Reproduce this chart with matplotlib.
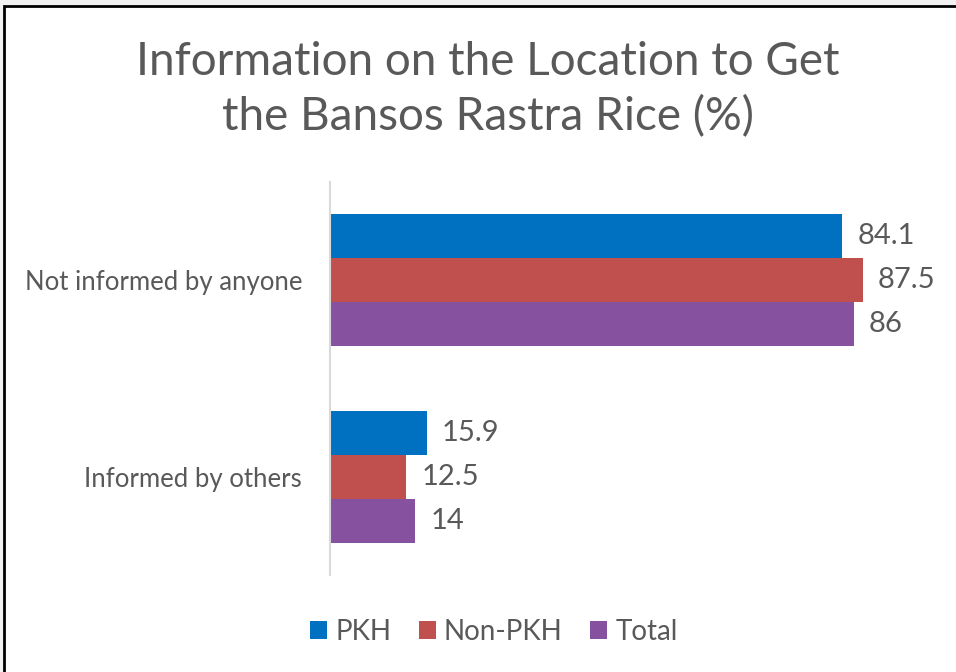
import matplotlib.pyplot as plt
from matplotlib.patches import Rectangle
import numpy as np

categories = ['Not informed by anyone', 'Informed by others']
series = ['PKH', 'Non-PKH', 'Total']
pkh = [84.1, 15.9]
non_pkh = [87.5, 12.5]
total = [86, 14]
labels_text = [['84.1', '15.9'], ['87.5', '12.5'], ['86', '14']]

colors = ['#0070C0', '#C0504D', '#8652A0']
grey = '#595959'

plt.rcParams['font.family'] = ['Lato', 'DejaVu Sans']

fig = plt.figure(figsize=(9.56, 6.72), dpi=100)
fig.patch.set_facecolor('#f2f2f2')
# white chart area with black border
border = Rectangle((4 / 956, -0.01), 1.02, 1 - 6 / 672 + 0.01,
                   transform=fig.transFigure, facecolor='white',
                   edgecolor='black', linewidth=2, zorder=-1)
fig.add_artist(border)

ax = fig.add_axes([330 / 956, (672 - 575) / 672, 609 / 956, 393 / 672])
ax.set_facecolor('none')
ax.set_zorder(2)

bar_h = 44 / 196
ypos = np.arange(len(categories))
vals = [pkh, non_pkh, total]
for i, (name, v) in enumerate(zip(series, vals)):
    y = ypos + (i - 1) * bar_h
    ax.barh(y, v, height=bar_h, color=colors[i], label=name)
    for yy, vv, t in zip(y, v, labels_text[i]):
        ax.text(vv + 2.5, yy, t, va='center', ha='left', fontsize=21, color=grey)

ax.set_xlim(0, 100)
ax.set_ylim(1.5, -0.5)
ax.set_yticks(ypos)
ax.set_yticklabels(categories, fontsize=18.5, color=grey)
ax.tick_params(axis='y', length=0, pad=20)
ax.set_xticks([])
for s in ['top', 'right', 'bottom']:
    ax.spines[s].set_visible(False)
ax.spines['left'].set_color('#d9d9d9')
ax.spines['left'].set_linewidth(1.5)

fig.text(488 / 956, 1 - 90 / 672, 'Information on the Location to Get\nthe Bansos Rastra Rice (%)',
         ha='center', va='center', fontsize=33, color=grey, linespacing=1.35)

fig.legend(loc='center', bbox_to_anchor=(494 / 956, 1 - 632 / 672), ncol=3, frameon=False,
           fontsize=20, labelcolor=grey, handlelength=0.6, handleheight=0.6,
           columnspacing=1.0, handletextpad=0.3)

fig.savefig('out.png', dpi=100)
